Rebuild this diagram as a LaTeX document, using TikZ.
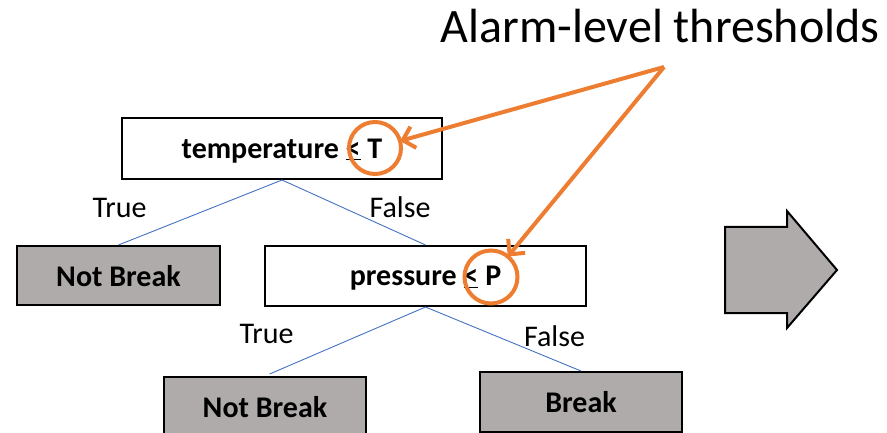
\documentclass[tikz,border=0pt]{standalone}
\usepackage{fontspec}
\setmainfont{Carlito}
\usetikzlibrary{arrows.meta}
\definecolor{leafgray}{RGB}{175,171,171}
\definecolor{edgeblue}{RGB}{68,114,196}
\definecolor{alarmorange}{RGB}{237,125,49}

\begin{document}
\begin{tikzpicture}[x=1pt,y=-1pt,
  testbox/.style={draw=black, line width=2pt, fill=white, inner sep=0pt,
    minimum width=321pt, minimum height=60pt, text depth=0pt,
    font=\fontsize{30}{34}\selectfont\bfseries},
  leafbox/.style={testbox, fill=leafgray, minimum width=202pt},
  treeedge/.style={draw=edgeblue, line width=0.9pt},
  branch/.style={anchor=base, inner sep=0pt, font=\fontsize{30}{34}\selectfont},
  alarmring/.style={draw=alarmorange, line width=4pt, circle, inner sep=0pt, outer sep=0pt},
  alarmarrow/.style={draw=alarmorange, line width=4pt,
    -{Straight Barb[length=11pt, width=22pt, line width=4pt]}},
  bigarrow/.style={draw=black, line width=2pt, fill=leafgray, line join=miter}
]
\useasboundingbox (0,0) rectangle (887,433);

% decision nodes
\node[testbox, minimum width=320pt, minimum height=61pt] (temp) at (282,148.5)
  {temperature \underline{<} T};
\node[testbox] (press) at (425.5,276) {pressure \underline{<} P};

% leaves
\node[leafbox, minimum width=203pt, minimum height=59pt] (leafA) at (118.5,275.5) {Not Break};
\node[leafbox] (leafB) at (265,407) {Not Break};
\node[leafbox] (leafC) at (581,402) {Break};

% branches
\draw[treeedge] (temp.south) -- (leafA.north);
\draw[treeedge] (temp.south) -- (press.north);
\draw[treeedge, shorten >=5pt] (press.south) -- (leafB.north);
\draw[treeedge] (press.south) -- (leafC.north);

\node[branch] (tA) at (119.5,218) {True};
\node[branch] (fA) at (400,218) {False};
\node[branch] (tB) at (266.5,343) {True};
\node[branch] (fB) at (554.5,346) {False};

% highlighted thresholds
\node[alarmring, minimum size=52pt] (ringT) at (375,148) {};
\node[alarmring, minimum size=53pt] (ringP) at (491,277) {};

\node[anchor=base, inner sep=0pt, font=\fontsize{48}{54}\selectfont] (title) at (660,43)
  {Alarm-level thresholds};
\coordinate (apex) at (664,67);
\draw[alarmarrow] (apex) -- (ringT);
\draw[alarmarrow] (apex) -- (ringP);

% block arrow
\draw[bigarrow] (725,227) -- (787,227) -- (787,211) -- (837,270) -- (787,328)
  -- (787,313) -- (725,313) -- cycle;
\end{tikzpicture}
\end{document}
